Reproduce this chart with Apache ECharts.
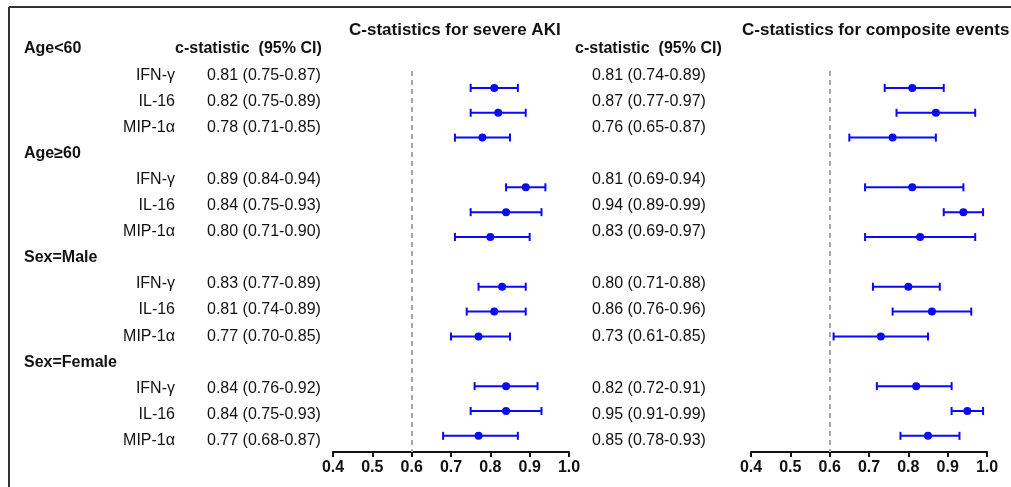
<!DOCTYPE html>
<html>
<head>
<meta charset="utf-8">
<script src="https://cdn.jsdelivr.net/npm/echarts@6/dist/echarts.min.js"></script>
<style>
  html, body { margin: 0; padding: 0; background: #fff; }
  #chart { width: 1011px; height: 487px; }
</style>
</head>
<body>
<div id="chart"></div>
<script>
var groups = ['Age<60', 'Age≥60', 'Sex=Male', 'Sex=Female'];
var markers = ['IFN-γ', 'IL-16', 'MIP-1α'];
var titles = ['C-statistics for severe AKI', 'C-statistics for composite events'];
var ciHeader = 'c-statistic  (95% CI)';
var refLine = 0.6;

// severe AKI
var akiEst  = [0.81, 0.82, 0.78, 0.89, 0.84, 0.80, 0.83, 0.81, 0.77, 0.84, 0.84, 0.77];
var akiLow  = [0.75, 0.75, 0.71, 0.84, 0.75, 0.71, 0.77, 0.74, 0.70, 0.76, 0.75, 0.68];
var akiHigh = [0.87, 0.89, 0.85, 0.94, 0.93, 0.90, 0.89, 0.89, 0.85, 0.92, 0.93, 0.87];

// composite events
var compEst  = [0.81, 0.87, 0.76, 0.81, 0.94, 0.83, 0.80, 0.86, 0.73, 0.82, 0.95, 0.85];
var compLow  = [0.74, 0.77, 0.65, 0.69, 0.89, 0.69, 0.71, 0.76, 0.61, 0.72, 0.91, 0.78];
var compHigh = [0.89, 0.97, 0.87, 0.94, 0.99, 0.97, 0.88, 0.96, 0.85, 0.91, 0.99, 0.93];

var FONT = '"Liberation Sans", Arial, sans-serif';
var INK = '#111';
var BLUE = '#0a0af5';

// x columns for the text table (pixels)
var col = { group: 24, name: 175, hdr1: 175, ci1: 207, hdr2: 575, ci2: 592 };

function rowOf(i) {
    return Math.floor(i / 3) * 4 + 1 + (i % 3);
}
function ciText(e, l, h, i) {
    return e[i].toFixed(2) + ' (' + l[i].toFixed(2) + '-' + h[i].toFixed(2) + ')';
}

// text items
var texts = [];
texts.push({ x: col.hdr1, row: 0, text: ciHeader, bold: true, align: 'left' });
texts.push({ x: col.hdr2, row: 0, text: ciHeader, bold: true, align: 'left' });
groups.forEach(function (g, gi) {
    texts.push({ x: col.group, row: gi * 4, text: g, bold: true, align: 'left' });
});
for (var i = 0; i < akiEst.length; i++) {
    texts.push({ x: col.name, row: rowOf(i), text: markers[i % 3], bold: false, align: 'right' });
    texts.push({ x: col.ci1, row: rowOf(i), text: ciText(akiEst, akiLow, akiHigh, i), bold: false, align: 'left' });
    texts.push({ x: col.ci2, row: rowOf(i), text: ciText(compEst, compLow, compHigh, i), bold: false, align: 'left' });
}

function forestData(e, l, h) {
    return e.map(function (v, i) { return [v, l[i], h[i], rowOf(i)]; });
}

function renderForest(params, api) {
    var mid = api.coord([api.value(0), api.value(3)]);
    var lo = api.coord([api.value(1), api.value(3)]);
    var hi = api.coord([api.value(2), api.value(3)]);
    var st = { stroke: BLUE, lineWidth: 2 };
    return {
        type: 'group',
        children: [
            { type: 'line', shape: { x1: lo[0], y1: lo[1], x2: hi[0], y2: hi[1] }, style: st },
            { type: 'line', shape: { x1: lo[0], y1: lo[1] - 4, x2: lo[0], y2: lo[1] + 4 }, style: st },
            { type: 'line', shape: { x1: hi[0], y1: hi[1] - 4, x2: hi[0], y2: hi[1] + 4 }, style: st },
            { type: 'circle', shape: { cx: mid[0], cy: mid[1], r: 4 }, style: { fill: BLUE } }
        ]
    };
}

function plotXAxis(idx) {
    return {
        type: 'value', gridIndex: idx, min: 0.4, max: 1.0, interval: 0.1,
        splitLine: { show: false },
        axisLine: { show: true, lineStyle: { color: INK, width: 2 } },
        axisTick: { show: true, length: 5, lineStyle: { color: INK, width: 2 } },
        axisLabel: {
            color: INK, fontSize: 16, fontWeight: 'bold', fontFamily: FONT, margin: 8,
            formatter: function (v) { return v.toFixed(1); }
        }
    };
}
function plotYAxis(idx) {
    return { type: 'value', gridIndex: idx, inverse: true, min: 0.32, max: 15.65, show: false };
}
function refMark() {
    return {
        silent: true, symbol: ['none', 'none'], label: { show: false },
        lineStyle: { type: [5, 4], color: '#a8a8a8', width: 2 },
        data: [{ xAxis: refLine }]
    };
}

var chart = echarts.init(document.getElementById('chart'));
var option = {
    animation: false,
    backgroundColor: '#fff',
    title: [
        { text: titles[0], left: 349, top: 22, padding: 0,
          textStyle: { fontSize: 17, fontWeight: 'bold', color: INK, fontFamily: FONT } },
        { text: titles[1], left: 742, top: 22, padding: 0,
          textStyle: { fontSize: 17, fontWeight: 'bold', color: INK, fontFamily: FONT } }
    ],
    grid: [
        { left: 0, width: 1011, top: 22.9, height: 430.65 },
        { left: 333, width: 236, top: 71, height: 381 },
        { left: 751, width: 236, top: 71, height: 381 }
    ],
    xAxis: [
        { type: 'value', gridIndex: 0, min: 0, max: 1011, show: false },
        plotXAxis(1),
        plotXAxis(2)
    ],
    yAxis: [
        { type: 'value', gridIndex: 0, inverse: true, min: -1, max: 15.5, show: false },
        plotYAxis(1),
        plotYAxis(2)
    ],
    graphic: [
        { type: 'line', shape: { x1: 9, y1: 7, x2: 1011, y2: 7 }, style: { stroke: '#333', lineWidth: 2 } },
        { type: 'line', shape: { x1: 9, y1: 7, x2: 9, y2: 487 }, style: { stroke: '#333', lineWidth: 2 } }
    ],
    series: [
        {
            type: 'custom', xAxisIndex: 0, yAxisIndex: 0, silent: true,
            data: texts.map(function (t) { return [t.x, t.row]; }),
            renderItem: function (params, api) {
                var t = texts[params.dataIndex];
                var p = api.coord([api.value(0), api.value(1)]);
                return {
                    type: 'text', x: p[0], y: p[1],
                    style: {
                        text: t.text, fill: INK, align: t.align, verticalAlign: 'middle',
                        font: (t.bold ? 'bold ' : '') + '16px ' + FONT
                    }
                };
            }
        },
        {
            type: 'custom', xAxisIndex: 1, yAxisIndex: 1, silent: true,
            data: forestData(akiEst, akiLow, akiHigh),
            renderItem: renderForest,
            markLine: refMark()
        },
        {
            type: 'custom', xAxisIndex: 2, yAxisIndex: 2, silent: true,
            data: forestData(compEst, compLow, compHigh),
            renderItem: renderForest,
            markLine: refMark()
        }
    ]
};
chart.setOption(option);
</script>
</body>
</html>
